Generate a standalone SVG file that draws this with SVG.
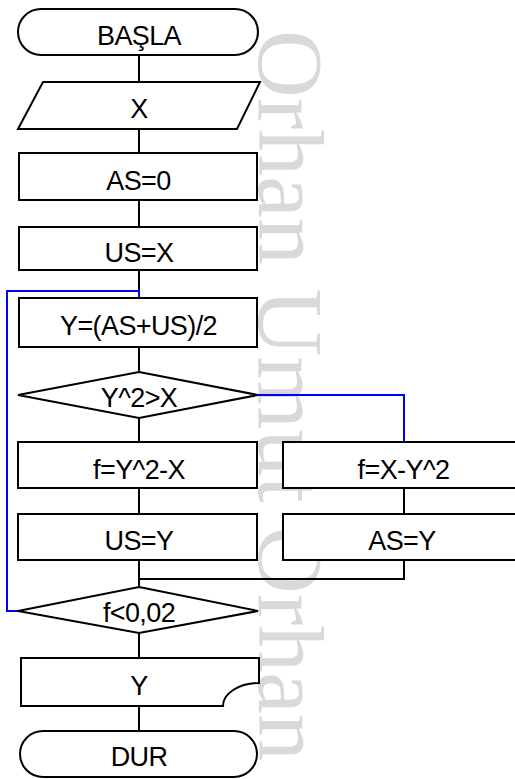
<svg xmlns="http://www.w3.org/2000/svg" width="515" height="779" viewBox="0 0 515 779">
<style>
.s{fill:#fff;stroke:#000;stroke-width:2}
.t{font-family:"Liberation Sans",Arial,sans-serif;font-size:27px;letter-spacing:-0.6px;fill:#000;text-anchor:middle}
.c{fill:none;stroke:#000;stroke-width:2}
.b{fill:none;stroke:#0000ff;stroke-width:2}
.w{font-family:"Liberation Serif","Times New Roman",serif;font-size:94px;fill:#d9d9d9}
</style>
<rect width="515" height="779" fill="#fff"/>
<text class="w" transform="translate(259,30) rotate(90)">Orhan Umut Orhan</text>
<g id="connectors">
<path class="c" d="M139,55V82M139,129V153M139,200V227M139,270V291M139,347V372M139,418V442M139,488V514M139,560V587M404,488V514M404,560V579H139M139,633V658M139,706V731"/>
<path class="b" d="M18,611H7V291H139V298"/>
<path class="b" d="M258,395H404V442"/>
</g>
<g id="start"><rect class="s" x="18" y="9" width="240" height="46" rx="23"/><text class="t" x="139" y="45">BAŞLA</text></g>
<g id="input"><polygon class="s" points="43,82 260,82 237,129 18,129"/><text class="t" x="139" y="118">X</text></g>
<g id="as0"><rect class="s" x="19" y="153" width="238" height="47"/><text class="t" x="138.5" y="190">AS=0</text></g>
<g id="usx"><rect class="s" x="19" y="227" width="238" height="43"/><text class="t" x="139" y="262">US=X</text></g>
<g id="ycalc"><rect class="s" x="19" y="298" width="238" height="49"/><text class="t" x="138.5" y="335">Y=(AS+US)/2</text></g>
<g id="cond1"><polygon class="s" points="139,372 258,395 139,418 18,395"/><text class="t" x="139" y="407">Y^2&gt;X</text></g>
<g id="f1"><rect class="s" x="18" y="442" width="239" height="46"/><text class="t" x="139" y="479">f=Y^2-X</text></g>
<g id="f2"><rect class="s" x="283" y="442" width="245" height="46"/><text class="t" x="403.5" y="479">f=X-Y^2</text></g>
<g id="usy"><rect class="s" x="18" y="514" width="239" height="46"/><text class="t" x="139" y="550">US=Y</text></g>
<g id="asy"><rect class="s" x="283" y="514" width="245" height="46"/><text class="t" x="402" y="550">AS=Y</text></g>
<g id="cond2"><polygon class="s" points="139,587 258,611 139,633 18,611"/><text class="t" x="139" y="622">f&lt;0,02</text></g>
<g id="output"><path class="s" d="M21,658H259V683A36,23 0 0 0 223,706H21Z"/><text class="t" x="139" y="695">Y</text></g>
<g id="end"><rect class="s" x="20" y="731" width="237" height="46" rx="23"/><text class="t" x="139" y="766">DUR</text></g>
</svg>
